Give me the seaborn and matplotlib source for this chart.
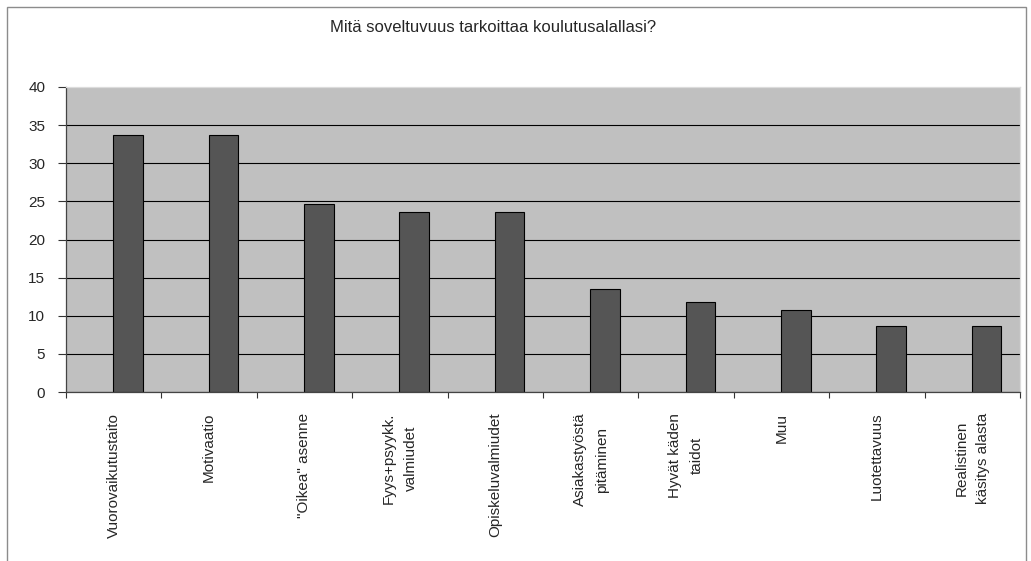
import numpy as np
import pandas as pd
import matplotlib.pyplot as plt
import seaborn as sns
from matplotlib.patches import Rectangle

sns.set_theme(style="white")
plt.rcParams['font.family'] = ['Liberation Sans', 'DejaVu Sans']

title = 'Mitä soveltuvuus tarkoittaa koulutusalallasi?'
categories = ['Vuorovaikutustaito', 'Motivaatio', '"Oikea" asenne', 'Fyys+psyykk.\nvalmiudet',
              'Opiskeluvalmiudet', 'Asiakastyöstä\npitäminen', 'Hyvät käden\ntaidot', 'Muu',
              'Luotettavuus', 'Realistinen\nkäsitys alasta']
values = [33.7, 33.7, 24.7, 23.6, 23.6, 13.5, 11.8, 10.7, 8.6, 8.6]
yticks = [0, 5, 10, 15, 20, 25, 30, 35, 40]

df = pd.DataFrame({'Kategoria': categories, 'Arvo': values})

fig = plt.figure(figsize=(10.31, 5.61), dpi=100)
ax = fig.add_axes([66 / 1031, 1 - 392 / 561, (1020 - 66) / 1031, (392 - 87) / 561])

sns.barplot(data=df, x='Kategoria', y='Arvo', color='#555555', edgecolor='black',
            linewidth=0.8, width=0.31, saturation=1, ax=ax)
# Excel style: bars sit a bit right of the category centre
for p in ax.patches:
    p.set_x(p.get_x() + 0.15)

ax.set_facecolor('#c0c0c0')
ax.set_xlim(-0.5, len(categories) - 0.5)
ax.set_ylim(0, 40)
ax.set_yticks(yticks)
ax.yaxis.grid(True, color='black', linewidth=0.8)
ax.get_ygridlines()[-1].set_visible(False)
ax.set_axisbelow(True)

ax.set_xticks(range(len(categories)))
ax.set_xticklabels(categories, rotation=90, fontsize=11, ha='center', va='top',
                   multialignment='center', linespacing=1.7)
ax.set_xticks(np.arange(-0.5, len(categories), 1), minor=True)
ax.tick_params(axis='x', which='major', length=0, pad=15)
ax.tick_params(axis='x', which='minor', length=4, width=0.8, color='#333333', direction='out', bottom=True)
ax.tick_params(axis='y', length=6, width=0.8, color='#333333', direction='out', labelsize=11, left=True, pad=9)
ax.set_xlabel('')
ax.set_ylabel('')

for side in ['left', 'bottom']:
    ax.spines[side].set_color('#444444')
    ax.spines[side].set_linewidth(0.9)
for side in ['top', 'right']:
    ax.spines[side].set_color('#dcdcdc')
    ax.spines[side].set_linewidth(0.9)

fig.text(493 / 1031, 1 - 27 / 561, title, ha='center', va='center', fontsize=12)
fig.patches.append(Rectangle((7 / 1031, -0.05), (1026 - 7) / 1031, 1.05 - 7 / 561,
                             transform=fig.transFigure, fill=False, edgecolor='#8c8c8c', linewidth=1))

plt.savefig('out.png', dpi=100)
plt.close()
